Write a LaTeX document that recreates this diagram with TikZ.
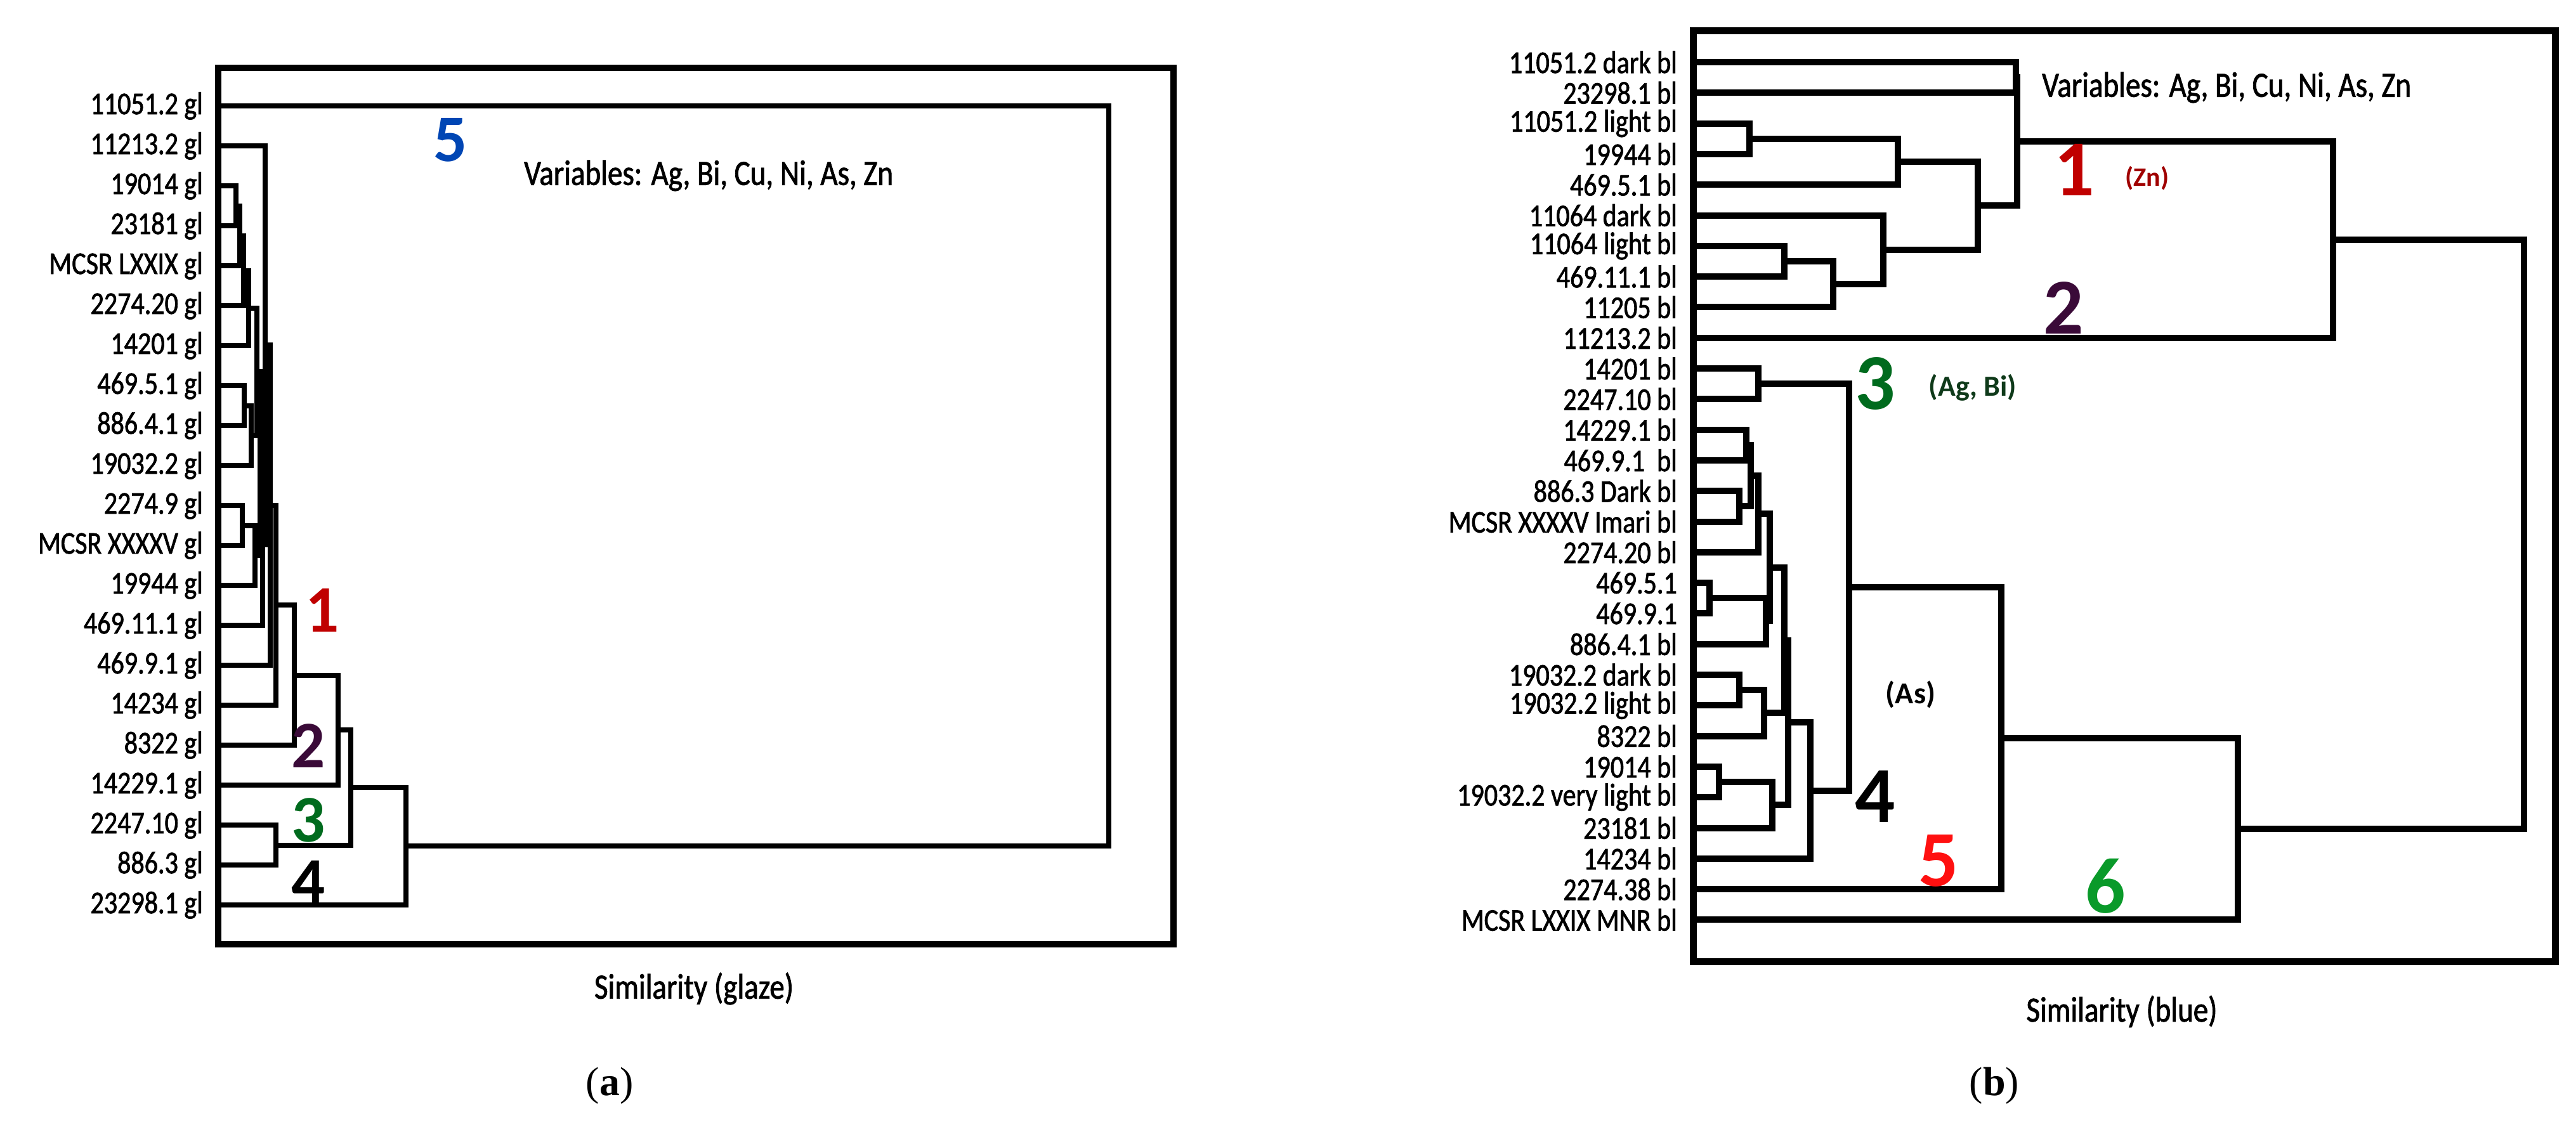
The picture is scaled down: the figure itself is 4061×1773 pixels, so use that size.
\documentclass[tikz,border=0pt]{standalone}
\usepackage{fontspec}
\setmainfont{Carlito}
\newfontfamily\conda{Carlito}[FakeStretch=0.84,FakeBold=1.5]
\newfontfamily\condb{Carlito}[FakeStretch=0.84,FakeBold=1.5]
\newfontfamily\capf{Liberation Serif}
\usetikzlibrary{calc}
\definecolor{cred}{HTML}{C00000}
\definecolor{cdred}{HTML}{A00000}
\definecolor{cbred}{HTML}{FF1010}
\definecolor{cgreen}{HTML}{006B1E}
\definecolor{cdgreen}{HTML}{0F3A1A}
\definecolor{cgreen6}{HTML}{0A9A2A}
\definecolor{cpurp}{HTML}{3A0A38}
\definecolor{cblue}{HTML}{0046B4}
\newcommand\mrg[5][]{%
  \draw[dl,#1] let \p1=(#3),\p2=(#4) in (\p1) -- (#5pt,\y1) -- (#5pt,\y2) -- (\p2);
  \path let \p1=(#3),\p2=(#4) in (#5pt,{0.5*(\y1+\y2)}) coordinate (#2);}
\begin{document}
\begin{tikzpicture}[x=1pt,y=-1pt,
  dl/.style={line width=8pt,line join=miter,line cap=rect},
  frame/.style={line width=10pt,line join=miter},
  laba/.style={anchor=east,inner sep=0pt,font=\fontsize{50}{50}\conda},
  labb/.style={anchor=east,inner sep=0pt,font=\fontsize{50}{50}\condb},
  num/.style={inner sep=0pt,font=\fontsize{105}{105}\selectfont\bfseries},
  txt/.style={inner sep=0pt,font=\fontsize{56}{56}\conda},
  captxt/.style={inner sep=0pt,font=\fontsize{64}{64}\capf}]
\useasboundingbox (0,0) rectangle (4061,1773);
% ---------------- panel (a)
\draw[frame] (344,107) rectangle (1850,1489);
\foreach \t [count=\i from 0] in {11051.2 gl,11213.2 gl,19014 gl,23181 gl,MCSR LXXIX gl,2274.20 gl,14201 gl,469.5.1 gl,886.4.1 gl,19032.2 gl,2274.9 gl,MCSR XXXXV gl,19944 gl,469.11.1 gl,469.9.1 gl,14234 gl,8322 gl,14229.1 gl,2247.10 gl,886.3 gl,23298.1 gl}{
  \node[laba] (la\i) at (320,{167+63*\i}) {\t};
  \coordinate (pa\i) at (344,{167+63*\i});
}
\mrg{aA}{pa2}{pa3}{372}
\mrg{aB}{aA}{pa4}{378}
\mrg{aC}{aB}{pa5}{384}
\mrg{aD}{aC}{pa6}{392}
\mrg{aE}{pa7}{pa8}{385}
\mrg{aF}{aE}{pa9}{396}
\mrg{aG}{pa10}{pa11}{382}
\mrg{aH}{aG}{pa12}{402}
\mrg{aI}{aD}{aF}{405}
\mrg{aJ}{aI}{aH}{410}
\mrg{aK}{aJ}{pa13}{414}
\mrg{aL}{pa1}{aK}{418}
\mrg{aM}{aL}{pa14}{426}
\mrg{aN}{aM}{pa15}{435}
\mrg{aO}{aN}{pa16}{464}
\mrg{aP}{aO}{pa17}{533}
\mrg{aQ}{pa18}{pa19}{435}
\mrg{aR}{aP}{aQ}{553}
\mrg{aS}{aR}{pa20}{640}
\mrg{aT}{pa0}{aS}{1748}
\node[num,text=cblue] (a5) at (710,221) {5};
\node[num,text=cred] (a1) at (508,962) {1};
\node[num,text=cpurp] (a2) at (486,1176) {2};
\node[num,text=cgreen] (a3) at (486,1293) {3};
\node[num] (a4) at (486,1391) {4};
\node[txt,anchor=west] (avar) at (826,277) {Variables: Ag, Bi, Cu, Ni, As, Zn};
\node[txt] (asim) at (1094,1559) {Similarity (glaze)};
\node[captxt] (acap) at (961,1712) {(\textbf{a})};
% ---------------- panel (b)
\begin{scope}[dl/.style={line width=10pt,line join=miter,line cap=rect}]
\draw[frame,line width=11pt] (2669,48) rectangle (4028,1516);
\foreach \t [count=\i from 0] in {11051.2 dark bl,23298.1 bl,11051.2 light bl,19944 bl,469.5.1 bl,11064 dark bl,11064 light bl,469.11.1 bl,11205 bl,11213.2 bl,14201 bl,2247.10 bl,14229.1 bl,469.9.1\ \ bl,886.3 Dark bl,MCSR XXXXV Imari bl,2274.20 bl,469.5.1,469.9.1,886.4.1 bl,19032.2 dark bl,19032.2 light bl,8322 bl,19014 bl,19032.2 very light bl,23181 bl,14234 bl,2274.38 bl,MCSR LXXIX MNR bl}{
  \node[labb] (lb\i) at (2644,{98+48.3*\i}) {\t};
  \coordinate (pb\i) at (2669,{98+48.3*\i});
}
\mrg{bA}{pb0}{pb1}{3178}
\mrg{bB}{pb2}{pb3}{2758}
\mrg{bC}{bB}{pb4}{2992}
\mrg{bD}{pb6}{pb7}{2813}
\mrg{bE}{bD}{pb8}{2890}
\mrg{bF}{pb5}{bE}{2969}
\mrg{bG}{bC}{bF}{3118}
\mrg{bH}{bA}{bG}{3180}
\mrg{bI}{bH}{pb9}{3678}
\mrg{bJ}{pb10}{pb11}{2772}
\mrg{bK1}{pb12}{pb13}{2753}
\mrg{bK2}{pb14}{pb15}{2742}
\mrg{bK3}{bK1}{bK2}{2760}
\mrg{bK4}{bK3}{pb16}{2772}
\mrg{bK5}{pb17}{pb18}{2695}
\mrg{bK6}{bK5}{pb19}{2784}
\mrg{bK7}{bK4}{bK6}{2790}
\mrg{bQ1}{pb20}{pb21}{2742}
\mrg{bQ2}{bQ1}{pb22}{2781}
\mrg{bR1}{pb23}{pb24}{2710}
\mrg{bR2}{bR1}{pb25}{2794}
\mrg{bK8}{bK7}{bQ2}{2813}
\mrg{bK9}{bK8}{bR2}{2819}
\mrg{bK10}{bK9}{pb26}{2854}
\mrg{bL}{bJ}{bK10}{2915}
\mrg{bM}{bL}{pb27}{3155}
\mrg{bN}{bM}{pb28}{3528}
\mrg{bO}{bI}{bN}{3979}
\end{scope}
\node[txt,anchor=west] (bvar) at (3219,138) {Variables: Ag, Bi, Cu, Ni, As, Zn};
\node[num,text=cred,font=\fontsize{125}{125}\selectfont\bfseries] (b1) at (3270,268) {1};
\node[inner sep=0pt,text=cdred,font=\fontsize{42}{42}\selectfont\bfseries] (bzn) at (3385,281) {(Zn)};
\node[num,text=cpurp,font=\fontsize{125}{125}\selectfont\bfseries] (b2) at (3253,486) {2};
\node[num,text=cgreen,font=\fontsize{125}{125}\selectfont\bfseries] (b3) at (2956,605) {3};
\node[inner sep=0pt,text=cdgreen,font=\fontsize{46}{46}\selectfont\bfseries] (bagbi) at (3110,611) {(Ag, Bi)};
\node[inner sep=0pt,font=\fontsize{48}{48}\selectfont\bfseries] (bas) at (3012,1095) {(As)};
\node[num,font=\fontsize{125}{125}\selectfont\bfseries] (b4) at (2956,1256) {4};
\node[num,text=cbred,font=\fontsize{125}{125}\selectfont\bfseries] (b5) at (3056,1357) {5};
\node[num,text=cgreen6,font=\fontsize{125}{125}\selectfont\bfseries] (b6) at (3319,1397) {6};
\node[txt] (bsim) at (3345,1595) {Similarity (blue)};
\node[captxt] (bcap) at (3144,1712) {(\textbf{b})};
\end{tikzpicture}
\end{document}
